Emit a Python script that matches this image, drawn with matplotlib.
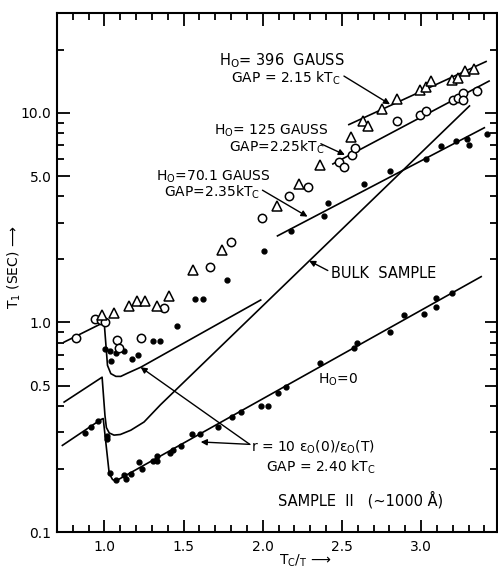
import matplotlib
matplotlib.use("Agg")
import matplotlib.pyplot as plt
from matplotlib.ticker import FixedLocator, FixedFormatter

# data (Tc/T, T1 in sec)
h0_x = [0.875, 0.916, 0.958, 1.013, 1.017, 1.038, 1.070, 1.122, 1.135, 1.165,
        1.217, 1.236, 1.308, 1.334, 1.334, 1.411, 1.432, 1.481, 1.551, 1.601,
        1.717, 1.804, 1.865, 1.987, 2.034, 2.097, 2.146, 2.363, 2.574, 2.595,
        2.806, 2.894, 3.021, 3.095, 3.095, 3.194]
h0_y = [0.297, 0.316, 0.338, 0.287, 0.277, 0.191, 0.178, 0.188, 0.179, 0.189,
        0.215, 0.200, 0.218, 0.231, 0.218, 0.239, 0.246, 0.258, 0.295, 0.295,
        0.317, 0.354, 0.374, 0.400, 0.400, 0.461, 0.490, 0.643, 0.758, 0.797,
        0.896, 1.09, 1.10, 1.19, 1.31, 1.39]

g70_x = [1.002, 1.034, 1.040, 1.072, 1.125, 1.173, 1.209, 1.304, 1.350, 1.458,
         1.574, 1.625, 1.776, 2.008, 2.177, 2.388, 2.413, 2.637, 2.806, 3.032,
         3.127, 3.222, 3.291, 3.306, 3.416]
g70_y = [0.75, 0.73, 0.654, 0.714, 0.727, 0.672, 0.701, 0.812, 0.818, 0.957,
         1.30, 1.30, 1.60, 2.20, 2.72, 3.23, 3.70, 4.58, 5.30, 6.02,
         6.97, 7.36, 7.5, 7.05, 7.9]

g125_x = [0.823, 0.941, 0.977, 1.002, 1.078, 1.093, 1.230, 1.378, 1.666, 1.797,
          1.998, 2.166, 2.287, 2.479, 2.515, 2.563, 2.584, 2.848, 2.996, 3.032,
          3.200, 3.236, 3.268, 3.268, 3.353]
g125_y = [0.845, 1.04, 1.03, 1.00, 0.827, 0.758, 0.842, 1.175, 1.83, 2.43,
          3.17, 4.02, 4.41, 5.81, 5.55, 6.28, 6.78, 9.18, 9.75, 10.26,
          11.54, 11.75, 12.5, 11.54, 12.8]

g396_x = [0.985, 1.059, 1.154, 1.203, 1.255, 1.329, 1.407, 1.557, 1.745, 2.087,
          2.230, 2.363, 2.557, 2.635, 2.663, 2.751, 2.848, 2.994, 3.032, 3.063,
          3.196, 3.236, 3.280, 3.334]
g396_y = [1.08, 1.11, 1.205, 1.27, 1.26, 1.205, 1.345, 1.78, 2.22, 3.61,
          4.60, 5.66, 7.68, 9.18, 8.69, 10.49, 11.69, 12.83, 13.3, 14.23,
          14.3, 14.7, 15.85, 16.2]

# fitted lines
fit396_x, fit396_y = [2.544, 3.411], [8.80, 17.6]
fit125_x, fit125_y = [2.443, 3.430], [5.71, 14.2]
fit70_x, fit70_y = [2.093, 3.40], [2.59, 8.5]

# theory curves
bulk_x = [0.745, 0.985, 1.003, 1.012, 1.03, 1.06, 1.10, 1.166, 1.25, 1.354, 3.306]
bulk_y = [0.417, 0.548, 0.36, 0.315, 0.297, 0.290, 0.292, 0.306, 0.335, 0.405, 10.8]
rup_x = [0.745, 0.998, 1.019, 1.040, 1.072, 1.103, 1.146, 1.23, 1.987]
rup_y = [0.806, 1.003, 0.624, 0.570, 0.553, 0.553, 0.573, 0.612, 1.28]
rlo_x = [0.734, 0.977, 0.992, 1.03, 1.051, 1.065, 1.082, 3.38]
rlo_y = [0.259, 0.344, 0.348, 0.190, 0.178, 0.176, 0.177, 1.655]

ytick_vals = [0.1, 0.5, 1.0, 5.0, 10.0]
ytick_labels = ["0.1", "0.5", "1.0", "5.0", "10.0"]
xtick_vals = [1.0, 1.5, 2.0, 2.5, 3.0]
xtick_labels = ["1.0", "1.5", "2.0", "2.5", "3.0"]

fig = plt.figure(figsize=(4.98, 5.77), dpi=100)
ax = fig.add_axes([57/498, 45/577, 440/498, 519/577])
ax.set_yscale("log")
ax.set_xlim(0.70, 3.48)
ax.set_ylim(0.1, 30)

lw = 1.2
for xs, ys in [(fit396_x, fit396_y), (fit125_x, fit125_y), (fit70_x, fit70_y),
               (bulk_x, bulk_y), (rup_x, rup_y), (rlo_x, rlo_y)]:
    ax.plot(xs, ys, color="k", lw=lw)

ax.plot(h0_x, h0_y, "o", color="k", ms=3.5, ls="none")
ax.plot(g70_x, g70_y, "o", color="k", ms=3.5, ls="none")
ax.plot(g125_x, g125_y, "o", mfc="white", mec="k", mew=1.1, ms=6, ls="none")
ax.plot(g396_x, g396_y, "^", mfc="white", mec="k", mew=1.1, ms=6.5, ls="none")

# axes styling
ax.yaxis.set_major_locator(FixedLocator(ytick_vals))
ax.yaxis.set_major_formatter(FixedFormatter(ytick_labels))
ax.yaxis.set_minor_locator(FixedLocator([0.2, 0.3, 0.4, 0.6, 0.7, 0.8, 0.9,
                                         2, 3, 4, 6, 7, 8, 9, 20]))
ax.yaxis.set_minor_formatter(FixedFormatter([]))
ax.xaxis.set_major_locator(FixedLocator(xtick_vals))
ax.xaxis.set_major_formatter(FixedFormatter(xtick_labels))
ax.xaxis.set_minor_locator(FixedLocator([0.8, 0.9, 1.1, 1.2, 1.3, 1.4, 1.6, 1.7,
                                         1.8, 1.9, 2.1, 2.2, 2.3, 2.4, 2.6, 2.7,
                                         2.8, 2.9, 3.1, 3.2, 3.3, 3.4]))
ax.tick_params(which="both", direction="in", top=True, right=True, width=1.3,
               labelsize=10)
ax.tick_params(which="major", length=9)
ax.tick_params(which="minor", length=5)
ax.tick_params(axis="y", pad=4)
ax.tick_params(axis="x", pad=6)
for s in ax.spines.values():
    s.set_linewidth(1.5)

ax.text(-0.097, 0.51, r"T$_1$ (SEC) ⟶", rotation=90, transform=ax.transAxes,
        ha="center", va="center", fontsize=10)
ax.text(0.565, -0.056, r"T$_\mathrm{C}$/$_\mathrm{T}$ ⟶", transform=ax.transAxes,
        ha="center", va="center", fontsize=10)

fs = 10
ax.text(1.722, 17.7, r"H$_\mathrm{O}$= 396  GAUSS", fontsize=10.5, va="center")
ax.text(1.797, 14.6, r"GAP = 2.15 kT$_\mathrm{C}$", fontsize=fs, va="center")
ax.text(1.69, 8.21, r"H$_\mathrm{O}$= 125 GAUSS", fontsize=fs, va="center")
ax.text(1.785, 6.88, r"GAP=2.25kT$_\mathrm{C}$", fontsize=fs, va="center")
ax.text(1.323, 4.96, r"H$_\mathrm{O}$=70.1 GAUSS", fontsize=fs, va="center")
ax.text(1.373, 4.16, r"GAP=2.35kT$_\mathrm{C}$", fontsize=fs, va="center")
ax.text(2.43, 1.71, "BULK  SAMPLE", fontsize=10.5, va="center")
ax.text(2.348, 0.53, r"H$_\mathrm{O}$=0", fontsize=fs, va="center")
ax.text(1.924, 0.254, r"r = 10 ε$_\mathrm{O}$(0)/ε$_\mathrm{O}$(T)", fontsize=fs, va="center")
ax.text(2.019, 0.204, r"GAP = 2.40 kT$_\mathrm{C}$", fontsize=fs, va="center")
ax.text(2.095, 0.142, "SAMPLE  II   (~1000 Å)", fontsize=10.5, va="center")

ap = dict(arrowstyle="-|>", lw=1.0, color="k", mutation_scale=9, shrinkA=0, shrinkB=0)
ax.annotate("", xy=(2.804, 11.0), xytext=(2.513, 15.0), arrowprops=ap)
ax.annotate("", xy=(2.519, 6.31), xytext=(2.367, 7.13), arrowprops=ap)
ax.annotate("", xy=(2.283, 3.2), xytext=(1.998, 4.28), arrowprops=ap)
ax.annotate("", xy=(2.293, 1.97), xytext=(2.411, 1.77), arrowprops=ap)
ax.annotate("", xy=(1.228, 0.612), xytext=(1.918, 0.262), arrowprops=ap)
ax.annotate("", xy=(1.608, 0.269), xytext=(1.918, 0.262), arrowprops=ap)

fig.savefig("out.png", dpi=100)
